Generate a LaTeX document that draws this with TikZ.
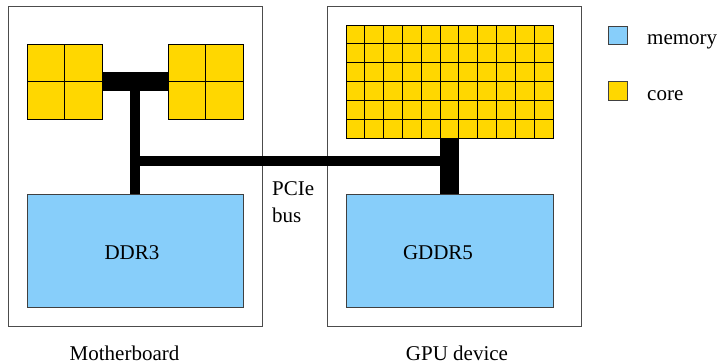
\documentclass[tikz,border=0pt]{standalone}
\usepackage{fontspec}
\setmainfont{LiberationSerif}[Extension=.ttf, UprightFont=*-Regular, BoldFont=*-Bold]
\definecolor{memblue}{RGB}{135,206,250}
\definecolor{coregold}{RGB}{255,215,0}
\begin{document}
\begin{tikzpicture}[x=1pt,y=-1pt,
  board/.style={draw=black!70, line width=1pt, inner sep=0pt, outer sep=0pt, anchor=north west},
  memblock/.style={draw=black!75, fill=memblue, line width=1pt, inner sep=0pt, outer sep=0pt, anchor=north west},
  coregroup/.style={inner sep=0pt, outer sep=0pt, anchor=north west},
  corecell/.style={draw=black, fill=coregold, line width=0.9pt},
  bus/.style={draw=black, line cap=butt},
  txt/.style={font=\fontsize{21}{25}\selectfont, inner sep=0pt}]
\useasboundingbox (0,0) rectangle (724,364);

% boards
\node[board, minimum width=254pt, minimum height=320pt] (mb)  at (8,6) {};
\node[board, minimum width=254pt, minimum height=320pt] (gpu) at (327,6) {};

% CPU core groups (2x2 each)
\node[coregroup, minimum width=75pt, minimum height=75pt] (cpuA) at (27,44) {};
\node[coregroup, minimum width=75pt, minimum height=75pt] (cpuB) at (168,44) {};
\foreach \ox in {27,168}
  \foreach \i in {0,1}
    \foreach \j in {0,1}
      \draw[corecell] (\ox+\i*37.5,44+\j*37.5) rectangle ++(37.5,37.5);

% GPU cores (11x6)
\node[coregroup, minimum width=207pt, minimum height=113pt] (gcores) at (346,25) {};
\foreach \i in {0,...,10}
  \foreach \j in {0,...,5}
    \draw[corecell] (346+\i*18.818,25+\j*18.833) rectangle ++(18.818,18.833);

% memories
\node[memblock, minimum width=216pt, minimum height=113pt] (ddr)  at (27,194) {};
\node[memblock, minimum width=207pt, minimum height=113pt] (gddr) at (346,194) {};

% buses
\draw[bus, line width=19pt] (cpuA.east) -- (cpuB.west);
\draw[bus, line width=10pt] (ddr.north |- cpuA.east) -- (ddr.north);
\draw[bus, line width=19pt] (gcores.south) -- (gddr.north);
\coordinate (busL) at (ddr.north |- 0,161);
\coordinate (busR) at (gddr.north |- 0,161);
\draw[bus, line width=10pt] (busL) -- (busR);

% labels
\node[txt, anchor=base] at (132,259) {DDR3};
\node[txt, anchor=base] at (438,259) {GDDR5};
\node[txt, anchor=base west] at (272,195) {PCIe};
\node[txt, anchor=base west] at (272,222) {bus};
\node[txt, anchor=base] at (124.5,360) {Motherboard};
\node[txt, anchor=base] at (457,360) {GPU device};

% legend
\draw[draw=black!75, fill=memblue, line width=1pt] (608,26) rectangle (627,44);
\draw[draw=black!75, fill=coregold, line width=1pt] (608,81) rectangle (627,100);
\node[txt, anchor=base west] at (647,44) {memory};
\node[txt, anchor=base west] at (647,100) {core};
\end{tikzpicture}
\end{document}
